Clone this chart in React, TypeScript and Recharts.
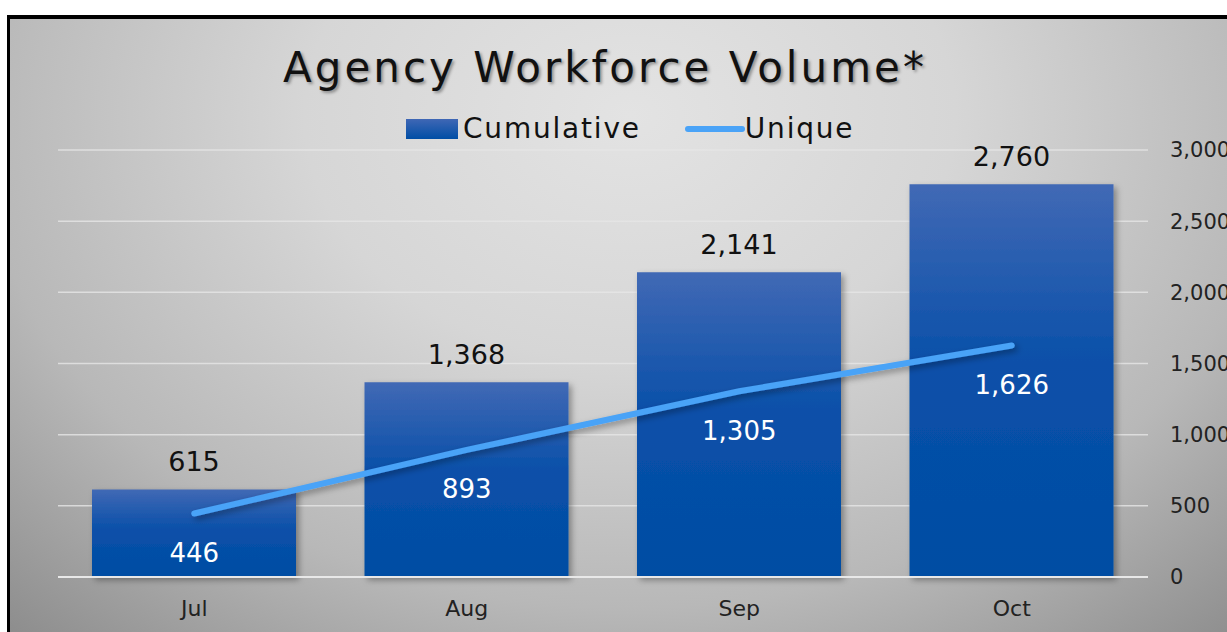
import React from "react";
import { ComposedChart, Bar, Line, XAxis, YAxis, CartesianGrid, LabelList } from "recharts";

const months = ["Jul", "Aug", "Sep", "Oct"];
const cumulative = [615, 1368, 2141, 2760];
const unique = [446, 893, 1305, 1626];
const yTicks = [0, 500, 1000, 1500, 2000, 2500, 3000];

const data = months.map((m, i) => ({ month: m, Cumulative: cumulative[i], Unique: unique[i] }));

const FONT = "'DejaVu Sans', sans-serif";
const fmt = (v: number) => v.toLocaleString("en-US");

const UniqueLabel = (props: any) => {
  const { x, y, value } = props;
  return (
    <text x={x} y={y + 41} fill="#ffffff" fontSize={26} fontFamily={FONT} textAnchor="middle" dominantBaseline="middle">
      {fmt(value)}
    </text>
  );
};

const LegendBox = () => (
  <div
    style={{
      position: "absolute",
      left: 396,
      top: 93,
      display: "flex",
      alignItems: "center",
      fontFamily: FONT,
      fontSize: 28,
      letterSpacing: 1.8,
      color: "#111",
      whiteSpace: "nowrap",
    }}
  >
    <svg width={52} height={20} style={{ marginRight: 5 }}>
      <defs>
        <linearGradient id="legGrad" x1="0" y1="0" x2="0" y2="1">
          <stop offset="0%" stopColor="#3f67b5" />
          <stop offset="100%" stopColor="#004ea5" />
        </linearGradient>
      </defs>
      <rect x={0} y={0} width={52} height={20} fill="url(#legGrad)" />
    </svg>
    <span style={{ marginRight: 44 }}>Cumulative</span>
    <svg width={60} height={12}>
      <line x1={3} y1={6} x2={57} y2={6} stroke="#4aa3f7" strokeWidth={6} strokeLinecap="round" />
    </svg>
    <span>Unique</span>
  </div>
);

export default function App() {
  return (
    <div
      style={{
        position: "absolute",
        left: 7,
        top: 15,
        width: 1240,
        height: 640,
        borderTop: "4px solid #000",
        borderLeft: "3px solid #000",
        background: "radial-gradient(ellipse 75% 110% at 50% 15%, #e3e3e3 0%, #d6d6d6 35%, #b8b8b8 70%, #8c8c8c 100%)",
        overflow: "hidden",
      }}
    >
      <div
        style={{
          position: "absolute",
          left: 0,
          width: 1190,
          top: 24,
          textAlign: "center",
          fontFamily: FONT,
          fontSize: 42,
          letterSpacing: 3,
          color: "#111",
          textShadow: "2px 2px 3px rgba(0,0,0,0.35)",
        }}
      >
        Agency Workforce Volume*
      </div>
      <LegendBox />
      <ComposedChart width={1230} height={620} data={data} margin={{ top: 131, right: 12, left: 48, bottom: 12 }}>
        <defs>
          <linearGradient id="barGrad" x1="0" y1="0" x2="0" y2="1">
            <stop offset="0%" stopColor="#4169b5" />
            <stop offset="45%" stopColor="#0a50a9" />
            <stop offset="100%" stopColor="#004da3" />
          </linearGradient>
          <filter id="shadow" x="-10%" y="-10%" width="130%" height="130%">
            <feDropShadow dx="3" dy="3" stdDeviation="3" floodColor="#000" floodOpacity="0.35" />
          </filter>
        </defs>
        <CartesianGrid vertical={false} stroke="#e6e6e6" strokeWidth={1.5} strokeOpacity={0.8} />
        <XAxis
          dataKey="month"
          axisLine={{ stroke: "#e8e8e8", strokeWidth: 2 }}
          tickLine={false}
          tick={{ fontSize: 22, fontFamily: FONT, fill: "#222" }}
          tickMargin={17}
          height={50}
        />
        <YAxis
          orientation="right"
          domain={[0, 3000]}
          ticks={yTicks}
          tickFormatter={fmt}
          axisLine={false}
          tickLine={false}
          tick={{ fontSize: 21, fontFamily: FONT, fill: "#222", textAnchor: "start" }}
          tickMargin={16}
          width={80}
        />
        <Bar dataKey="Cumulative" fill="url(#barGrad)" barSize={204} isAnimationActive={false} style={{ filter: "url(#shadow)" }}>
          <LabelList dataKey="Cumulative" position="top" offset={18} formatter={(v: any) => fmt(v)} fill="#111" fontSize={27} fontFamily={FONT} />
        </Bar>
        <Line
          dataKey="Unique"
          stroke="#4aa3f7"
          strokeWidth={6}
          strokeLinecap="round"
          dot={false}
          activeDot={false}
          isAnimationActive={false}
          style={{ filter: "url(#shadow)" }}
        >
          <LabelList dataKey="Unique" content={<UniqueLabel />} />
        </Line>
      </ComposedChart>
    </div>
  );
}
